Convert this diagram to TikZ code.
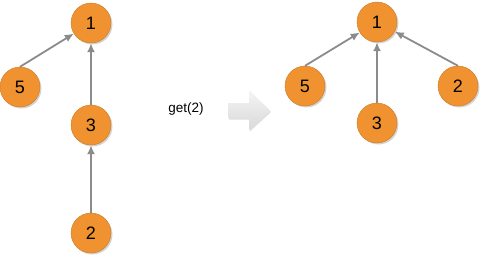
\documentclass[tikz,border=0pt]{standalone}
\usepackage{fontspec}
\setmainfont{Liberation Sans}
\usepackage{tikz}
\usetikzlibrary{arrows.meta, shadows}
\definecolor{knoten}{HTML}{F0922F}
\definecolor{kante}{HTML}{8A8B8E}

\begin{document}
\begin{tikzpicture}[x=1pt, y=-1pt,
			>={Latex[length=9pt, width=8pt]},   %Pfeilspitzen
			knot/.style={circle, fill=knoten, draw=knoten!85!black, line width=0.4pt, minimum size=40pt, inner sep=0pt,
				font=\fontsize{18}{20}\selectfont, drop shadow={shadow xshift=1.5pt, shadow yshift=-1.5pt, opacity=0.35}},
			kant/.style={->, draw=kante, line width=1.8pt}]
			\useasboundingbox (0,0) rectangle (482,255);
			%linker Baum
			\node[knot] (l1) at (91,23) {1};
			\node[knot] (l5) at (20,87) {5};
			\node[knot] (l3) at (91,125) {3};
			\node[knot] (l2) at (91,233) {2};
			\draw[kant] (l5.north) -- (l1);
			\draw[kant] (l3) -- (l1);
			\draw[kant] (l2) -- (l3);
			%Operation
			\node[font=\fontsize{13.5}{15}\selectfont] (op) at (186,109) {get(2)};
			\shade[top color=gray!8, bottom color=gray!30, drop shadow={shadow xshift=1pt, shadow yshift=-1.5pt, opacity=0.25}]
				(228,103) -- (249,103) -- (249,90) -- (270,110.5) -- (249,130) -- (249,118) -- (228,118) -- cycle;
			%rechter Baum
			\node[knot] (r1) at (377,22) {1};
			\node[knot] (r5) at (305,86) {5};
			\node[knot] (r3) at (377,123) {3};
			\node[knot] (r2) at (458,86) {2};
			\draw[kant] (r5.north) -- (r1);
			\draw[kant] (r3) -- (r1);
			\draw[kant] (r2.north) -- (r1);
		\end{tikzpicture}
\end{document}
